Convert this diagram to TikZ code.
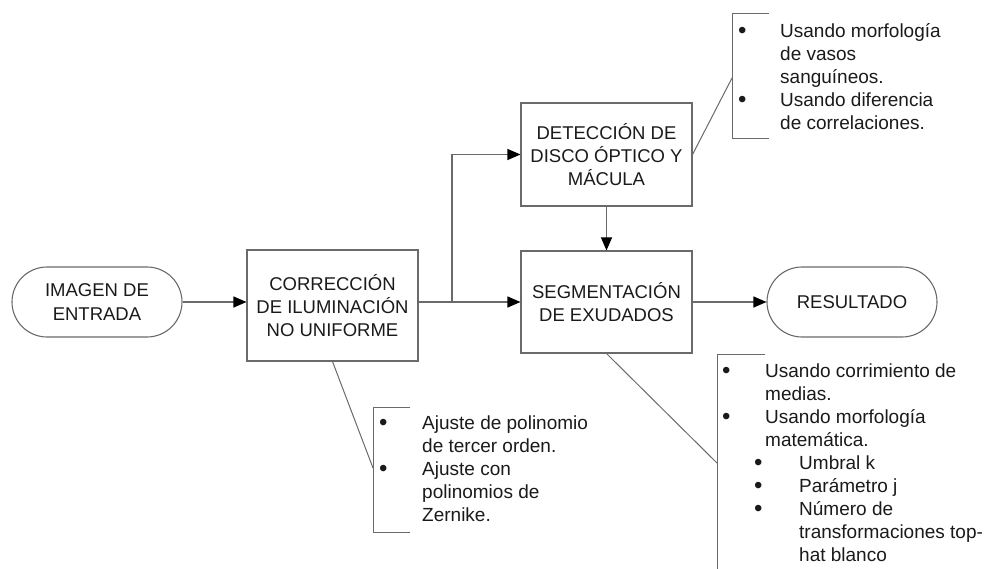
\documentclass[tikz,border=0pt]{standalone}
\usepackage{fontspec}
\setmainfont{Liberation Sans}
\usetikzlibrary{arrows.meta}
\definecolor{ln}{HTML}{6A6A6A}
\definecolor{tx}{HTML}{1A1A1A}
\begin{document}
\begin{tikzpicture}[x=1pt,y=-1pt,
  box/.style={draw=ln,line width=1.1pt,minimum width=171pt,text=tx,align=center,
    font=\fontsize{18.5}{23.3}\selectfont,inner sep=0pt},
  term/.style={box,minimum width=170pt,minimum height=70pt,rounded corners=35pt},
  flow/.style={draw=ln,line width=1.1pt,-{Triangle[length=13pt,width=11pt,color=black]}},
  thin/.style={draw=ln,line width=1pt},
  li/.style={anchor=base west,inner sep=0pt,text=tx,font=\fontsize{19}{23}\selectfont},
  bul/.style={li,font=\fontsize{24}{23}\selectfont}]
\useasboundingbox (0,0) rectangle (985,569);

% main nodes
\node[term] (in) at (97,302) {IMAGEN DE\\ENTRADA};
\node[box,minimum height=111pt] (corr) at (332.5,305.5) {CORRECCIÓN\\DE ILUMINACIÓN\\NO UNIFORME};
\node[box,minimum height=103pt] (det) at (606.5,154.5) {DETECCIÓN DE\\DISCO ÓPTICO Y\\MÁCULA};
\node[box,minimum height=102pt] (seg) at (606.5,302) {SEGMENTACIÓN\\DE EXUDADOS};
\node[term] (out) at (852,302) {RESULTADO};

% connectors
\coordinate (br) at (452,302);
\draw[flow] (in.east) -- (in.east -| corr.west);
\draw[flow] (corr.east |- seg.west) -- (seg.west);
\draw[flow] (br) |- (det.west);
\draw[flow] (det.south) -- (seg.north);
\draw[flow] (seg.east) -- (out.west);

% callout: deteccion
\coordinate (d1) at (769,14);
\coordinate (d2) at (732,14);
\coordinate (d3) at (732,139);
\coordinate (d4) at (769,139);
\coordinate (dm) at (732,78);
\draw[thin] (d1) -- (d2) -- (d3) -- (d4);
\draw[thin] (det.east) -- (dm);
\node[bul] (db1) at (738,38.5) {•};
\node[li] (dt1) at (780,37.5) {Usando morfología};
\node[li] (dt2) at (780,60.5) {de vasos};
\node[li] (dt3) at (780,83.5) {sanguíneos.};
\node[bul] (db2) at (738,107.5) {•};
\node[li] (dt4) at (780,106.5) {Usando diferencia};
\node[li] (dt5) at (780,129.5) {de correlaciones.};

% callout: correccion
\coordinate (c1) at (410,407);
\coordinate (c2) at (373,407);
\coordinate (c3) at (373,532);
\coordinate (c4) at (410,532);
\coordinate (cm) at (373,468);
\draw[thin] (c1) -- (c2) -- (c3) -- (c4);
\draw[thin] (corr.south) -- (cm);
\node[bul] (cb1) at (379,430.5) {•};
\node[li] (ct1) at (422,429.5) {Ajuste de polinomio};
\node[li] (ct2) at (422,452.5) {de tercer orden.};
\node[bul] (cb2) at (379,476.5) {•};
\node[li] (ct3) at (422,475.5) {Ajuste con};
\node[li] (ct4) at (422,498.5) {polinomios de};
\node[li] (ct5) at (422,521.5) {Zernike.};

% callout: segmentacion
\coordinate (s1) at (765,354);
\coordinate (s2) at (717,354);
\coordinate (s3) at (717,580);
\coordinate (sm) at (717,463);
\draw[thin] (s1) -- (s2) -- (s3);
\draw[thin] (seg.south) -- (sm);
\node[bul] (sb1) at (722,378.5) {•};
\node[li] (st1) at (765,377.5) {Usando corrimiento de};
\node[li] (st2) at (765,400.5) {medias.};
\node[bul] (sb2) at (722,424.5) {•};
\node[li] (st3) at (765,423.5) {Usando morfología};
\node[li] (st4) at (765,446.5) {matemática.};
\node[bul] (sb3) at (754,470.5) {•};
\node[li] (st5) at (799,469.5) {Umbral k};
\node[bul] (sb4) at (754,493.5) {•};
\node[li] (st6) at (799,492.5) {Parámetro j};
\node[bul] (sb5) at (754,516.5) {•};
\node[li] (st7) at (799,515.5) {Número de};
\node[li] (st8) at (799,538.5) {transformaciones top-};
\node[li] (st9) at (799,561.5) {hat blanco};
\end{tikzpicture}
\end{document}
